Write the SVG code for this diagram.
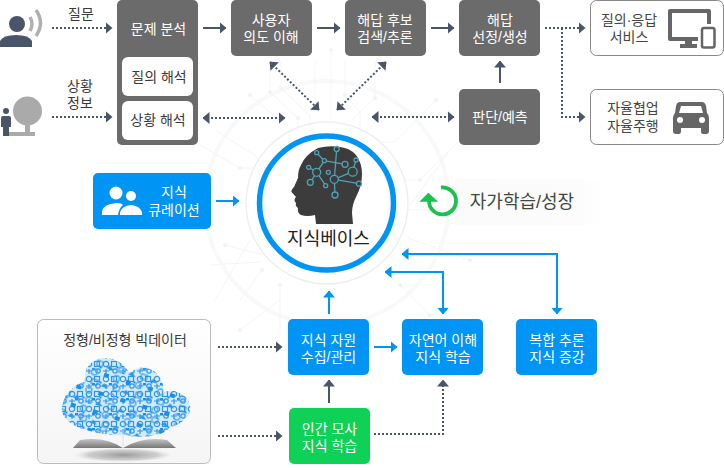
<svg xmlns="http://www.w3.org/2000/svg" width="724" height="470" viewBox="0 0 724 470">
<style>
text{font-family:"Liberation Sans","Noto Sans CJK KR",sans-serif;font-size:14px;text-anchor:middle}
.w{fill:#fff}.d{fill:#3a3a3a}
.g{fill:#6b6b6b}.b{fill:#0095f5}
.dot{fill:none;stroke:#4b5568;stroke-width:2;stroke-dasharray:2 2}
.sol{fill:none;stroke:#4b5568;stroke-width:2}
.bl{fill:none;stroke:#0095f5;stroke-width:2}
.n{fill:none;stroke:#4fa3b5;stroke-width:1.3}
</style>
<defs>
<marker id="a" viewBox="0 0 7 12" refX="6.5" refY="6" markerWidth="7" markerHeight="12" markerUnits="userSpaceOnUse" orient="auto-start-reverse"><path d="M0 0L7 6L0 12z" fill="#4b5568"/></marker>
<marker id="c" viewBox="0 0 7 12" refX="6.5" refY="6" markerWidth="7" markerHeight="12" markerUnits="userSpaceOnUse" orient="auto-start-reverse"><path d="M0 0L7 6L0 12z" fill="#0095f5"/></marker>
<linearGradient id="boxg" x1="0" y1="0" x2="0" y2="1"><stop offset="0" stop-color="#fff"/><stop offset="1" stop-color="#f5f5f5"/></linearGradient>
<linearGradient id="band" x1="0" y1="0" x2="1" y2="0"><stop offset="0" stop-color="#fbfbfb"/><stop offset=".8" stop-color="#fcfcfc"/><stop offset="1" stop-color="#fff"/></linearGradient>
<radialGradient id="shadow"><stop offset="0" stop-color="#9a9a9a"/><stop offset=".7" stop-color="#bdbdbd" stop-opacity=".7"/><stop offset="1" stop-color="#ddd" stop-opacity="0"/></radialGradient>
<linearGradient id="page" x1="0" y1="0" x2="0" y2="1"><stop offset="0" stop-color="#c4c4c4"/><stop offset="1" stop-color="#777"/></linearGradient>
<clipPath id="cloud"><path d="M62 407Q64 394 73 388Q78 383 85 382Q84 373 87 368Q94 358 103 358Q116 358 123 365L130 373Q138 366 147 368Q158 371 162 382Q164 388 163 393Q171 389 177 392Q188 396 190 405Q191 413 187 417Q180 425 170 427Q165 433 157 435Q140 438 123 435Q104 436 87 430Q76 428 67 420Q61 414 62 407z"/></clipPath>
<pattern id="icons" width="17" height="15" patternUnits="userSpaceOnUse">
<g fill="none" stroke="#2f95e8" stroke-width="1.2"><circle cx="4" cy="4" r="2.700"/><rect x="9.500" y="1.500" width="5" height="5"/><path d="M1 11H7M4 9V14"/><circle cx="13" cy="11" r="2.200"/></g>
<rect x="7" y="8" width="3" height="2.500" fill="#1c8fe8"/><rect x="14.500" y="6.500" width="2" height="2" fill="#1c8fe8"/>
</pattern>
<pattern id="icons2" width="23" height="19" patternUnits="userSpaceOnUse" patternTransform="rotate(17)">
<rect x="2" y="3" width="5" height="4" fill="#1c8fe8"/><circle cx="15" cy="5" r="3" fill="none" stroke="#4aa6ee" stroke-width="1.300"/><path d="M5 13L10 17H2z" fill="#2f95e8"/><rect x="15" y="12" width="6" height="5" fill="none" stroke="#1c8fe8"/>
</pattern>
</defs>
<rect width="724" height="470" fill="#fff"/>
<g id="background" fill="none" stroke="#f5f5f5" stroke-width="1">
<circle cx="327" cy="203" r="122" stroke="#f9f9f9" stroke-width="4"/>
<path d="M270 62V92L298 118V130M281 62V88L310 116V128M315 62V100M331 50V120M345 60V95L360 112V128M375 62V98L352 120M436 100L395 142H380M470 130L420 180L400 180M200 145L240 168H262M215 130L262 160M222 203H255M225 245L265 255M210 265L260 262M240 300L262 270M280 335V285M400 285L430 315M470 260L408 238M250 95L285 125M215 300L250 240M450 150L410 205M455 210H405M280 300L240 330"/>
<g fill="#f3f3f3" stroke="none"><circle cx="270" cy="92" r="2"/><circle cx="281" cy="88" r="2"/><circle cx="298" cy="118" r="2"/><circle cx="331" cy="50" r="2"/><circle cx="345" cy="95" r="2"/><circle cx="420" cy="180" r="2"/><circle cx="240" cy="168" r="2"/><circle cx="262" cy="160" r="2"/><circle cx="225" cy="245" r="2"/><circle cx="262" cy="270" r="2"/><circle cx="280" cy="285" r="2"/><circle cx="430" cy="315" r="2"/><circle cx="400" cy="285" r="2"/><circle cx="250" cy="95" r="2"/><circle cx="436" cy="100" r="2"/><circle cx="470" cy="260" r="2"/><circle cx="375" cy="98" r="2"/><circle cx="240" cy="330" r="2"/></g>
</g>
<g id="connectors">
<path class="dot" d="M52 28H112" marker-end="url(#a)"/>
<path class="dot" d="M52 117H112" marker-end="url(#a)"/>
<path class="sol" d="M203 28H226" marker-end="url(#a)"/>
<path class="sol" d="M317 28H340" marker-end="url(#a)"/>
<path class="sol" d="M431 28H454" marker-end="url(#a)"/>
<path class="sol" d="M500 83V61" marker-end="url(#a)"/>
<path class="dot" d="M545 28H585" marker-end="url(#a)"/>
<path class="dot" d="M562 28V117H585" marker-end="url(#a)"/>
<path class="dot" d="M203 118H285" marker-start="url(#a)" marker-end="url(#a)"/>
<path class="dot" d="M372 117H454" marker-start="url(#a)" marker-end="url(#a)"/>
<path class="dot" d="M270 62L319 110" marker-start="url(#a)" marker-end="url(#a)"/>
<path class="dot" d="M386 62L337 110" marker-start="url(#a)" marker-end="url(#a)"/>
<path class="bl" d="M216 201H239" marker-end="url(#c)"/>
<path class="bl" d="M329 314V291" marker-end="url(#c)"/>
<path class="bl" d="M443 314V272H385" marker-start="url(#c)" marker-end="url(#c)"/>
<path class="bl" d="M557 314V254H402" marker-start="url(#c)" marker-end="url(#c)"/>
<path class="bl" d="M374 347H397" marker-end="url(#c)"/>
<path class="sol" d="M329 403V380" marker-end="url(#a)"/>
<path class="dot" d="M218 347H282" marker-end="url(#a)"/>
<path class="dot" d="M218 436H282" marker-end="url(#a)"/>
<path class="dot" d="M374 434H443V380" marker-end="url(#a)"/>
</g>
<g id="user"><circle cx="17" cy="24" r="8" fill="#4b5568"/><path d="M0 47V41Q3 35 16 35Q29 35 32 41V47z" fill="#4b5568"/><path d="M30 17Q34 24 30 31" fill="none" stroke="#b0b0b0" stroke-width="3.500"/><path d="M36 10Q45 23 36 36" fill="none" stroke="#b0b0b0" stroke-width="3.500"/><text x="81" y="19" class="d">질문</text></g>
<g id="context"><circle cx="27.500" cy="111" r="14.500" fill="#aaa"/><rect x="25" y="120" width="5" height="13" fill="#aaa"/><rect x="9" y="132" width="26" height="4" fill="#aaa"/><circle cx="6" cy="111" r="3" fill="#4b5568"/><path d="M1 118Q1 116 3 116H9Q11 116 11 118V127H9V136H3V127H1z" fill="#4b5568"/><text x="80" y="91" class="d">상황<tspan x="80" dy="16.500">정보</tspan></text></g>
<g id="analysis"><rect x="117" y="0" width="81" height="145" rx="5" class="g"/><text x="158.500" y="34" class="w">문제 분석</text><rect x="122" y="57" width="71" height="39" rx="6" fill="#fff"/><text x="159" y="82" class="d">질의 해석</text><rect x="122" y="101" width="71" height="39" rx="6" fill="#fff"/><text x="158" y="125" class="d">상황 해석</text></g>
<g id="intent"><rect x="231" y="0" width="81" height="56" rx="5" class="g"/><text x="271" y="25" class="w">사용자<tspan x="271" dy="17">의도 이해</tspan></text></g>
<g id="search"><rect x="345" y="0" width="81" height="56" rx="5" class="g"/><text x="385" y="25" class="w">해답 후보<tspan x="385" dy="17">검색/추론</tspan></text></g>
<g id="select"><rect x="459" y="0" width="81" height="56" rx="5" class="g"/><text x="500" y="25" class="w">해답<tspan x="500" dy="17">선정/생성</tspan></text></g>
<g id="judge"><rect x="459" y="89" width="81" height="56" rx="5" class="g"/><text x="500" y="122" class="w">판단/예측</text></g>
<g id="qa"><rect x="590.500" y="0.500" width="133" height="55" rx="6" fill="#fff" stroke="#888"/><text x="629" y="25" fill="#444">질의·응답<tspan x="629" dy="17">서비스</tspan></text><path d="M670 9H709Q711 9 711 11V24H707V13H672V37H698V41H692V44H697V48H680V44H685V41H670Q668 41 668 39V11Q668 9 670 9z" fill="#666"/><rect x="702" y="28" width="12.500" height="19.500" rx="2" fill="#fff" stroke="#666" stroke-width="2.500"/></g>
<g id="auto"><rect x="590.500" y="89.500" width="133" height="55" rx="6" fill="#fff" stroke="#888"/><text x="633" y="113" fill="#444">자율협업<tspan x="633" dy="18">자율주행</tspan></text><path d="M680 102H702Q705 102 706 106L707 113Q709 115 709 118V131Q709 134 706 134H703Q701 134 701 131V128H681V131Q681 134 679 134H676Q673 134 673 131V118Q673 115 675 113L676 106Q677 102 680 102z" fill="#666"/><path d="M681 106H701L703 113H679z" fill="#fff"/><circle cx="680" cy="120" r="3" fill="#fff"/><circle cx="702" cy="120" r="3" fill="#fff"/></g>
<g id="curation"><rect x="93" y="173" width="118" height="56" rx="5" class="b"/><circle cx="116" cy="193" r="6.500" fill="#fff"/><circle cx="131" cy="196" r="5" fill="#fff"/><path d="M102 215V211Q104 204 116 203Q122 203 123 205Q119 208 118 215z M120 215V212Q122 206 131 205Q140 206 142 212V215z" fill="#fff"/><text x="174" y="197" class="w">지식<tspan x="174" dy="18">큐레이션</tspan></text></g>
<g id="kb"><circle cx="327" cy="203" r="81" fill="#fff" stroke="#efefef" stroke-width="1.500"/><circle cx="326.500" cy="203" r="67" fill="#fff" stroke="#0095f5" stroke-width="5.500"/>
<path d="M316 224L315 215Q307 217 301 215Q297 213 298 208Q295 206 296 203Q293 200 296 197L291.500 192Q291 190 294 187L298 178Q298 170 301 165Q305 155 318 148Q330 145 340 147Q350 148 356 155Q362 163 362 174Q362 186 356 197Q352 205 352 213L353 224z" fill="#3c3c3c"/>
<path class="n" d="M316.700 152.700L324.300 160.700L316.700 172.300L308.700 167.300M316.700 172.300L310.300 182.300M316.700 172.300L325.700 185.700M324.300 160.700L345 164.300M336.700 149L334.300 179.300L352.700 171.700L356 160M334.300 179.300L359 183.700M334.300 179.300L335 195" />
<g fill="#3c3c3c" stroke="#4fa3b5" stroke-width="1.300"><circle cx="316.700" cy="172.300" r="4"/><circle cx="316.700" cy="152.700" r="2"/><circle cx="324.300" cy="160.700" r="2"/><circle cx="308.700" cy="167.300" r="2"/><circle cx="310.300" cy="182.300" r="3"/><circle cx="325.700" cy="185.700" r="2"/><circle cx="328.300" cy="172.300" r="2"/><circle cx="334.300" cy="179.300" r="4"/><circle cx="336.700" cy="149" r="2.500"/><circle cx="345" cy="164.300" r="3"/><circle cx="352.700" cy="171.700" r="4.500"/><circle cx="356" cy="160" r="2"/><circle cx="359" cy="183.700" r="2.500"/><circle cx="335" cy="195" r="3"/></g>
<text x="328.500" y="245" style="font-size:18px" fill="#222">지식베이스</text></g>
<g id="selflearn"><rect x="455" y="179" width="150" height="46" fill="url(#band)"/><path d="M441 187.500A13.500 13.500 0 1 1 429 201" fill="none" stroke="#19c24f" stroke-width="3.800"/><path d="M419.300 201.700H438.300L428.300 192.700z" fill="#19c24f"/><text x="522" y="208" style="font-size:18px" fill="#3f4a3f">자가학습/성장</text></g>
<g id="bigdata"><rect x="37.500" y="319.500" width="173" height="144" rx="6" fill="url(#boxg)" stroke="#bbb"/><text x="125" y="345" class="d">정형/비정형 빅데이터</text>
<g clip-path="url(#cloud)"><rect x="55" y="350" width="140" height="90" fill="#d3eafb"/><rect x="55" y="350" width="140" height="90" fill="url(#icons)"/><rect x="55" y="350" width="140" height="90" fill="url(#icons2)"/></g>
<rect x="122.500" y="430" width="1" height="16" fill="#ddd"/>
<ellipse cx="123" cy="455" rx="50" ry="7" fill="url(#shadow)"/>
<path d="M73 448L80 440Q105 436 123 448Q143 436 167 440L176 448z" fill="url(#page)"/></g>
<g id="collect"><rect x="288" y="319" width="81" height="56" rx="5" class="b"/><text x="328.500" y="345" class="w">지식 자원<tspan x="328.500" dy="17">수집/관리</tspan></text></g>
<g id="nlp"><rect x="402" y="319" width="81" height="56" rx="5" class="b"/><text x="443" y="345" class="w">자연어 이해<tspan x="443" dy="17">지식 학습</tspan></text></g>
<g id="reason"><rect x="516" y="319" width="81" height="56" rx="5" class="b"/><text x="557" y="345" class="w">복합 추론<tspan x="557" dy="17">지식 증강</tspan></text></g>
<g id="human"><rect x="289" y="408" width="81" height="56" rx="5" fill="#10d158"/><text x="329.500" y="434" class="w">인간 모사<tspan x="329.500" dy="17">지식 학습</tspan></text></g>
</svg>
